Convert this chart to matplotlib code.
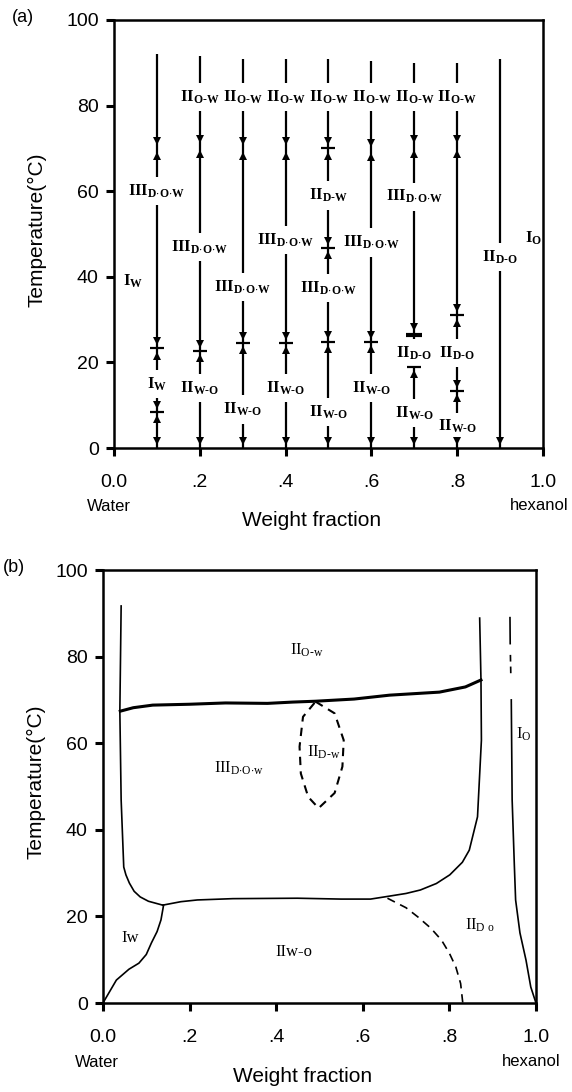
import matplotlib
matplotlib.use("Agg")
import matplotlib.pyplot as plt

plt.rcParams['font.family'] = ['Liberation Sans', 'DejaVu Sans']
plt.rcParams['mathtext.fontset'] = 'custom'
plt.rcParams['mathtext.rm'] = 'Liberation Serif'
plt.rcParams['mathtext.it'] = 'Liberation Serif:italic'
plt.rcParams['mathtext.bf'] = 'Liberation Serif:bold'

# ---------------- data ----------------
xticks = [0.0, 0.2, 0.4, 0.6, 0.8, 1.0]
xticklabels = ["0.0", ".2", ".4", ".6", ".8", "1.0"]
yticks = [0, 20, 40, 60, 80, 100]

# panel (a): experimental compositions (vertical scans)
col_x = [0.1, 0.2, 0.3, 0.4, 0.5, 0.6, 0.7, 0.8, 0.9]
col_top = [92, 91.5, 91, 91, 91, 90.5, 90, 90, 91]
col_trans = [[70.0, 23.3, 8.4], [70.4, 22.7], [70.0, 24.5], [70.0, 24.5],
             [70.0, 46.7, 24.8], [69.6, 24.8], [70.4, 26.5, 19.0],
             [70.4, 31.0, 13.3], []]
col_mark = [["", "+", "+"], ["", "+"], ["", "+"], ["", "+"],
            ["+", "+", "+"], ["", "+"], ["", "bar", "+"], ["", "+", "+"], []]

lab_x = [0.1, 0.1,
         0.2, 0.2, 0.2,
         0.3, 0.3, 0.3,
         0.4, 0.4, 0.4,
         0.5, 0.5, 0.5, 0.5,
         0.6, 0.6, 0.6,
         0.7, 0.7, 0.7, 0.7,
         0.8, 0.8, 0.8,
         0.9]
lab_T = [60, 15,
         82, 47, 14,
         82, 37.6, 9,
         82, 48.6, 14,
         82, 59, 37.4, 8.4,
         82, 48, 14,
         82, 58.7, 22.2, 8.2,
         82, 22.2, 5,
         44.6]
lab_main = ["III", "I",
            "II", "III", "II",
            "II", "III", "II",
            "II", "III", "II",
            "II", "II", "III", "II",
            "II", "III", "II",
            "II", "III", "II", "II",
            "II", "II", "II",
            "II"]
lab_sub = ["DOW", "W",
           "OW", "DOW", "WO",
           "OW", "DOW", "WO",
           "OW", "DOW", "WO",
           "OW", "DW", "DOW", "WO",
           "OW", "DOW", "WO",
           "OW", "DOW", "DO", "WO",
           "OW", "DO", "WO",
           "DO"]
free_x = [0.044, 0.979]
free_T = [39, 49]
free_main = ["I", "I"]
free_sub = ["W", "O"]

# panel (b): phase boundaries
left_x = [0.042, 0.039, 0.042, 0.048, 0.053, 0.061, 0.072, 0.086, 0.105, 0.138]
left_T = [91.7, 67.4, 46.9, 31.4, 29.6, 27.7, 25.8, 24.5, 23.5, 22.6]
low_x = [0.138, 0.18, 0.218, 0.30, 0.449, 0.55, 0.618, 0.650, 0.70, 0.733,
         0.77, 0.801, 0.83, 0.846, 0.865, 0.874, 0.873, 0.870]
low_T = [22.6, 23.4, 23.8, 24.1, 24.2, 24.0, 24.0, 24.5, 25.3, 26.1,
         27.6, 29.6, 32.5, 35.3, 43, 60.7, 74.6, 88.9]
up_x = [0.040, 0.07, 0.115, 0.2, 0.283, 0.38, 0.438, 0.491, 0.58, 0.662,
        0.777, 0.837, 0.873]
up_T = [67.4, 68.2, 68.8, 69.0, 69.3, 69.2, 69.5, 69.7, 70.2, 71.1,
        71.8, 73.0, 74.6]
loop_x = [0.491, 0.535, 0.556, 0.553, 0.535, 0.498, 0.474, 0.457, 0.454,
          0.462, 0.491]
loop_T = [69.6, 66.9, 60.7, 54.6, 48.5, 45.0, 47.6, 53.0, 59.2, 66.1, 69.6]
dash_x = [0.657, 0.70, 0.727, 0.757, 0.782, 0.80, 0.815, 0.826, 0.831]
dash_T = [24.2, 22.0, 19.9, 17.3, 14.5, 11.5, 8.3, 4.5, 0.0]
iw_x = [0.0, 0.031, 0.06, 0.083, 0.10, 0.112, 0.125, 0.134, 0.140]
iw_T = [0.0, 5.3, 7.8, 9.2, 11.2, 13.9, 16.5, 19.2, 22.6]
right_x = [0.940, 0.9405, 0.941, 0.942, 0.943, 0.945, 0.950, 0.953, 0.963,
           0.977, 0.988, 1.0]
right_T = [89, 83, 80.4, 75.4, 70, 46.9, 32, 23.8, 16.2, 9.9, 3.7, 0]

blab_x = [0.47, 0.315, 0.51, 0.973, 0.063, 0.44, 0.871]
blab_T = [81.5, 54.3, 58, 62, 15, 11.8, 18]
blab_txt = [r"$\mathrm{II}_{\mathrm{O\text{-}w}}$",
            r"$\mathrm{III}_{\mathrm{D{\cdot}O{\cdot}w}}$",
            r"$\mathrm{II}_{\mathrm{D\text{-}w}}$",
            r"$\mathrm{I}_{\mathrm{O}}$",
            "Iw", "IIw-o",
            r"$\mathrm{II}_{\mathrm{D\ o}}$"]

SUBS = {"DOW": r"D{\cdot}O{\cdot}W", "OW": r"O\text{-}W", "WO": r"W\text{-}O",
        "DW": r"D\text{-}W", "DO": r"D\text{-}O", "W": "W", "O": "O"}


def sublabel(main, sub):
    return r"$\mathbf{%s}_{\mathbf{%s}}$" % (main, SUBS[sub])


# ---------------- figure ----------------
fig = plt.figure(figsize=(5.72, 10.92), dpi=100)
axA = fig.add_axes([0.1993, 0.5897, 0.750, 0.392])
axB = fig.add_axes([0.180, 0.0815, 0.757, 0.3965])


def style(ax, ylab_y):
    ax.set_xlim(0, 1)
    ax.set_ylim(0, 100)
    ax.set_xticks(xticks)
    ax.set_xticklabels(xticklabels)
    ax.set_yticks(yticks)
    ax.tick_params(axis='both', direction='out', length=6, width=2.2,
                   labelsize=14, colors='black')
    ax.tick_params(axis='x', pad=13)
    ax.tick_params(axis='y', pad=5)
    for s in ax.spines.values():
        s.set_linewidth(1.8)
    tr = ax.get_xaxis_transform()
    ax.text(-0.013, -0.137, "Water", transform=tr, ha='center', va='center',
            fontsize=12)
    ax.text(0.99, -0.135, "hexanol", transform=tr, ha='center', va='center',
            fontsize=12)
    ax.text(0.46, -0.17, "Weight fraction", transform=ax.transAxes,
            ha='center', va='center', fontsize=15)
    ax.text(ylab_y, 0.51, "Temperature(°C)", transform=ax.transAxes,
            ha='center', va='center', rotation=90, fontsize=15)


style(axA, -0.18)
style(axB, -0.155)

# ----- panel (a) -----
GAP = 3.3
for i, x in enumerate(col_x):
    gaps = [(t - GAP, t + GAP) for lx, t in zip(lab_x, lab_T) if abs(lx - x) < 1e-6]
    gaps.sort()
    # line segments between gaps
    start = 0.0
    for g0, g1 in gaps:
        if g0 > start:
            axA.plot([x, x], [start, g0], color='black', lw=1.6,
                     solid_capstyle='butt')
        start = g1
    if start < col_top[i]:
        axA.plot([x, x], [start, col_top[i]], color='black', lw=1.6,
                 solid_capstyle='butt')

    def in_gap(t):
        return any(g0 <= t <= g1 for g0, g1 in gaps)

    for t, m in zip(col_trans[i], col_mark[i]):
        if not in_gap(t + 1.7):
            axA.plot(x, t + 1.7, marker='v', ms=5.5, color='black', mew=0)
        if not in_gap(t - 1.7):
            axA.plot(x, t - 1.7, marker='^', ms=5.5, color='black', mew=0)
        if m == "+":
            axA.plot(x, t, marker='_', ms=10, mew=1.6, color='black')
        elif m == "bar":
            axA.plot(x, t, marker='_', ms=12, mew=3, color='black')
    axA.plot(x, 1.7, marker='v', ms=5.5, color='black', mew=0)

for x, t, mn, sb in zip(lab_x, lab_T, lab_main, lab_sub):
    axA.text(x, t, sublabel(mn, sb), ha='center', va='center', fontsize=12)
for x, t, mn, sb in zip(free_x, free_T, free_main, free_sub):
    axA.text(x, t, sublabel(mn, sb), ha='center', va='center', fontsize=12)

# ----- panel (b) -----
axB.plot(left_x, left_T, color='black', lw=1.2)
axB.plot(low_x, low_T, color='black', lw=1.2)
axB.plot(up_x, up_T, color='black', lw=2.2)
axB.plot(loop_x, loop_T, color='black', lw=1.5, ls=(0, (4, 3)))
axB.plot(dash_x, dash_T, color='black', lw=1.2, ls=(0, (5, 3.5)))
axB.plot(iw_x, iw_T, color='black', lw=1.2)
axB.plot(right_x[0:2], right_T[0:2], color='black', lw=1.2)
axB.plot(right_x[2:4], right_T[2:4], color='black', lw=1.2, ls=(0, (4, 3)))
axB.plot(right_x[4:], right_T[4:], color='black', lw=1.2)

for x, t, s in zip(blab_x, blab_T, blab_txt):
    axB.text(x, t, s, ha='center', va='center', fontsize=12,
             family='Liberation Serif')

fig.text(12 / 572, 1 - 17 / 1092, "(a)", ha='left', va='center', fontsize=13)
fig.text(3 / 572, 1 - 568 / 1092, "(b)", ha='left', va='center', fontsize=13)

fig.savefig("out.png", dpi=100)
